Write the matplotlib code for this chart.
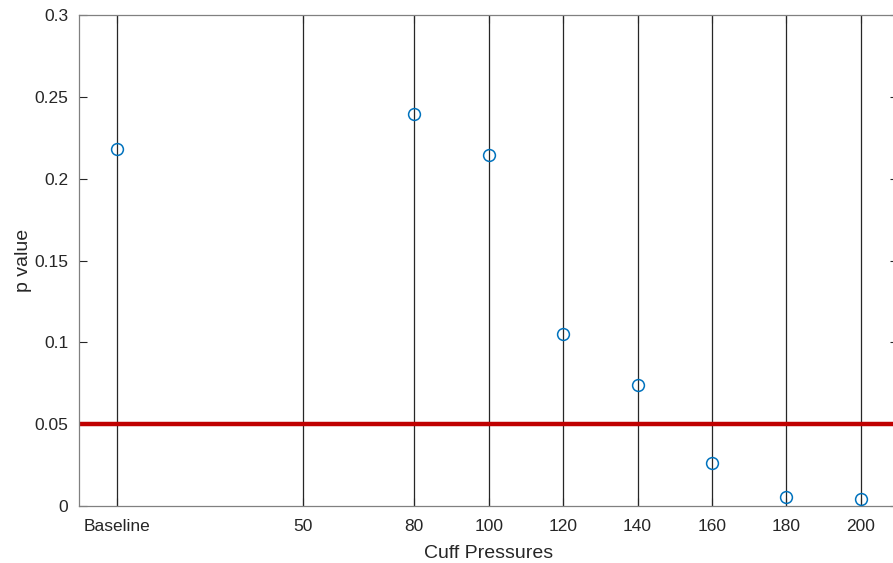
import numpy as np
import matplotlib.pyplot as plt

# cuff pressure steps (0 = baseline) and p values
pressures = [0, 80, 100, 120, 140, 160, 180, 200]
p_values = [0.218, 0.2395, 0.2145, 0.105, 0.0739, 0.0263, 0.0055, 0.0043]

xticks = [0, 50, 80, 100, 120, 140, 160, 180, 200]
xticklabels = ['Baseline', '50', '80', '100', '120', '140', '160', '180', '200']
yticks = [0, 0.05, 0.1, 0.15, 0.2, 0.25, 0.3]
yticklabels = ['0', '0.05', '0.1', '0.15', '0.2', '0.25', '0.3']
alpha_level = 0.05

plt.rcParams['font.family'] = ['Liberation Sans', 'DejaVu Sans']

fig = plt.figure(figsize=(8.93, 5.63), dpi=100)
ax = fig.add_axes([0.089, 0.1012, 0.9166, 0.8722])

# vertical grid lines at every pressure tick
for x in xticks:
    ax.axvline(x, color='#262626', lw=0.9, zorder=1)

ax.axhline(alpha_level, color='#C00000', lw=3.2, zorder=2)
ax.plot(pressures, p_values, 'o', mfc='none', mec='#0072BD', mew=1.1, ms=8.5, zorder=3)

ax.set_xlim(-10, 210)
ax.set_ylim(0, 0.3)
ax.set_xticks(xticks)
ax.set_xticklabels(xticklabels)
ax.set_yticks(yticks)
ax.set_yticklabels(yticklabels)
ax.tick_params(direction='in', length=6, width=0.8, color='#262626',
               labelsize=12.5, labelcolor='#262626', top=True, right=True)
ax.tick_params(axis='x', pad=9)
ax.tick_params(axis='y', pad=8)
for s in ax.spines.values():
    s.set_color('#808080')
    s.set_linewidth(0.9)

ax.set_xlabel('Cuff Pressures', fontsize=14, color='#262626', labelpad=8)
ax.set_ylabel('p value', fontsize=14, color='#262626', labelpad=2)

plt.savefig('out.png', dpi=100)
